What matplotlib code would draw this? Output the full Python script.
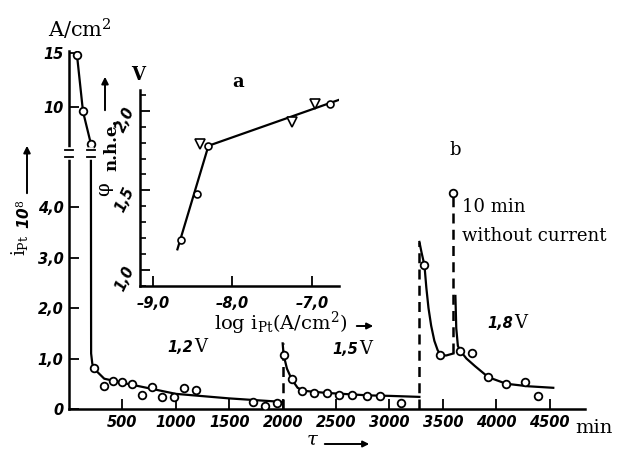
import numpy as np
import matplotlib
matplotlib.use('Agg')
import matplotlib.pyplot as plt
from matplotlib.ticker import NullLocator, MultipleLocator

plt.rcParams['mathtext.fontset'] = 'dejavuserif'

W, H = 635, 450

# main chart (b): time in min, current density i_Pt * 10^8 (A/cm2)
curve12_x = [75, 131, 205, 207, 218, 234, 330, 500, 1000, 1500, 2000]
curve12_y = [14.8, 9.6, 6.6, 1.1, 0.9, 0.8, 0.6, 0.52, 0.3, 0.21, 0.14]
pts12_x = [75, 131, 205, 234, 327, 411, 495, 589, 682, 776, 869, 981, 1075, 1187, 1720, 1832, 1944]
pts12_y = [14.8, 9.6, 6.6, 0.81, 0.46, 0.55, 0.53, 0.5, 0.28, 0.44, 0.24, 0.24, 0.42, 0.38, 0.14, 0.06, 0.12]

curve15_x = [2000, 2009, 2040, 2084, 2140, 2200, 2400, 2800, 3000, 3280]
curve15_y = [1.3, 1.07, 0.8, 0.59, 0.42, 0.36, 0.32, 0.27, 0.26, 0.24]
pts15_x = [2009, 2084, 2178, 2290, 2411, 2523, 2645, 2785, 2907, 3112]
pts15_y = [1.07, 0.59, 0.36, 0.32, 0.32, 0.28, 0.28, 0.26, 0.26, 0.12]

curve18a_x = [3280, 3300, 3327, 3345, 3365, 3390, 3420, 3450, 3477, 3530, 3598]
curve18a_y = [3.31, 3.1, 2.85, 2.4, 2.0, 1.65, 1.35, 1.17, 1.07, 1.06, 1.1]
curve18b_x = [3617, 3625, 3640, 3664, 3720, 3800, 3925, 4093, 4300, 4533]
curve18b_y = [2.24, 1.6, 1.25, 1.15, 1.0, 0.85, 0.63, 0.5, 0.45, 0.42]
pts18_x = [3327, 3477, 3598, 3664, 3776, 3925, 4093, 4271, 4393]
pts18_y = [2.85, 1.07, 4.28, 1.15, 1.11, 0.63, 0.5, 0.53, 0.26]

# dashed switching lines: (x, y_from, y_to)
dashes = [(2000, 0, 1.3), (3280, 0, 3.31), (3598, 1.1, 4.28)]

yticks = [0, 1, 2, 3, 4, 10, 15]
ytick_labels = ['0', '1,0', '2,0', '3,0', '4,0', '10', '15']
xticks = [500, 1000, 1500, 2000, 2500, 3000, 3500, 4000, 4500]
xtick_labels = ['500', '1000', '1500', '2000', '2500', '3000', '3500', '4000', '4500']

# inset (a): potential vs log current
inset_line_x = [-8.69, -8.3, -6.65]
inset_line_y = [1.13, 1.78, 2.07]
inset_circ_x = [-8.65, -8.45, -8.3, -6.77]
inset_circ_y = [1.19, 1.48, 1.78, 2.04]
inset_tri_x = [-8.41, -7.25, -6.96]
inset_tri_y = [1.79, 1.93, 2.04]
inset_xticks = [-9.0, -8.0, -7.0]
inset_xtick_labels = ['\u20139,0', '\u20138,0', '\u20137,0']
inset_yticks = [1.0, 1.5, 2.0]
inset_ytick_labels = ['1,0', '1,5', '2,0']

# broken y axis: linear up to BRK, compressed above
BRK, SLOPE = 4.885, 0.214


def fwd(y):
    y = np.asarray(y, float)
    return np.where(y <= BRK, y, BRK + (y - BRK) * SLOPE)


def inv(d):
    d = np.asarray(d, float)
    return np.where(d <= BRK, d, BRK + (d - BRK) / SLOPE)


def fx(x):
    return x / W


def fy(y):
    return 1 - y / H


num_font = dict(family='DejaVu Sans', style='italic', weight='bold', size=10.5)
serif = 'DejaVu Serif'

fig = plt.figure(figsize=(6.35, 4.5), dpi=100)
ax = fig.add_axes([fx(69), fy(409), (585 - 69) / W, (409 - 51) / H])
ax.set_yscale('function', functions=(fwd, inv))
ax.set_xlim(0, 4830)
ax.set_ylim(0, 15.2)

lw = 1.6
mk = dict(marker='o', ms=5.5, mfc='white', mec='black', mew=1.3, ls='none', zorder=4)
ax.plot(curve12_x, curve12_y, color='black', lw=lw)
ax.plot(curve15_x, curve15_y, color='black', lw=lw)
ax.plot(curve18a_x, curve18a_y, color='black', lw=lw)
ax.plot(curve18b_x, curve18b_y, color='black', lw=lw)
for x0, y0, y1 in dashes:
    ax.plot([x0, x0], [y0, y1], color='black', lw=1.8, ls=(0, (4, 2.5)))
ax.plot(pts12_x, pts12_y, **mk)
ax.plot(pts15_x, pts15_y, **mk)
ax.plot(pts18_x, pts18_y, **mk)

# break marks on the spine and on the first curve
g0, g1 = inv(5.0), inv(5.13)
for xb in [0, 205]:
    ax.plot([xb, xb], [g0, g1], color='white', lw=4, clip_on=False, zorder=6)
    for gy in [g0, g1]:
        ax.plot([xb - 38, xb + 38], [gy, gy], color='black', lw=1.3, clip_on=False, zorder=7)

ax.spines['top'].set_visible(False)
ax.spines['right'].set_visible(False)
for s in ['left', 'bottom']:
    ax.spines[s].set_linewidth(1.8)
ax.set_yticks(yticks)
ax.set_yticklabels(ytick_labels, fontdict=num_font)
ax.yaxis.set_minor_locator(NullLocator())
ax.set_xticks(xticks)
ax.set_xticklabels(xtick_labels, fontdict=num_font)
ax.tick_params(direction='in', length=7, width=1.3, pad=4)

# inset
axi = fig.add_axes([fx(140), fy(286), 199 / W, 196 / H])
axi.patch.set_visible(False)
axi.set_xlim(-9.16, -6.66)
axi.set_ylim(0.9, 2.13)
axi.plot(inset_line_x, inset_line_y, color='black', lw=lw)
axi.plot(inset_circ_x, inset_circ_y, marker='o', ms=5, mfc='white', mec='black', mew=1.2,
         ls='none', zorder=4)
axi.plot(inset_tri_x, inset_tri_y, marker='v', ms=7.5, mfc='white', mec='black', mew=1.2,
         ls='none', zorder=4)
axi.spines['top'].set_visible(False)
axi.spines['right'].set_visible(False)
for s in ['left', 'bottom']:
    axi.spines[s].set_linewidth(1.8)
axi.set_xticks(inset_xticks)
axi.set_xticklabels(inset_xtick_labels, fontdict=num_font)
axi.set_yticks(inset_yticks)
axi.set_yticklabels(inset_ytick_labels, fontdict=num_font, rotation=65)
axi.yaxis.set_minor_locator(MultipleLocator(0.1))
axi.tick_params(direction='in', length=7, width=1.3)
axi.tick_params(axis='x', pad=7)
axi.tick_params(axis='y', pad=2)
axi.tick_params(which='minor', direction='in', length=4.5, width=1.2)

# texts
fig.text(fx(80), fy(29), 'A/cm$^2$', family=serif, fontsize=15, ha='center', va='center')
fig.text(fx(20), fy(245), 'i$_{\\rm Pt}$', family=serif, fontsize=13, rotation=90,
         ha='center', va='center')
fig.text(fx(24), fy(214), '10$^8$', family='DejaVu Sans', style='italic', weight='bold',
         fontsize=11, rotation=90, ha='center', va='center')
fig.add_artist(plt.Annotation('', xy=(fx(27), fy(143)), xytext=(fx(27), fy(196)),
                              xycoords='figure fraction', textcoords='figure fraction',
                              arrowprops=dict(arrowstyle='-|>', color='black', lw=1.4,
                                              mutation_scale=10)))

fig.text(fx(138), fy(75), 'V', family=serif, weight='bold', fontsize=13, ha='center', va='center')
fig.text(fx(104), fy(189), '\u03c6', family=serif, fontsize=14, rotation=90, ha='center',
         va='center')
fig.text(fx(112), fy(145), 'n.h.e.', family=serif, weight='bold', fontsize=12, rotation=90,
         ha='center', va='center')
fig.add_artist(plt.Annotation('', xy=(fx(105), fy(74)), xytext=(fx(105), fy(113)),
                              xycoords='figure fraction', textcoords='figure fraction',
                              arrowprops=dict(arrowstyle='-|>', color='black', lw=1.4,
                                              mutation_scale=10)))
fig.text(fx(238), fy(82), 'a', family=serif, weight='bold', fontsize=13, ha='center',
         va='center')
fig.text(fx(214), fy(323), 'log i$_{\\rm Pt}$(A/cm$^2$)', family=serif, fontsize=14,
         ha='left', va='center')
fig.add_artist(plt.Annotation('', xy=(fx(376), fy(326)), xytext=(fx(354), fy(326)),
                              xycoords='figure fraction', textcoords='figure fraction',
                              arrowprops=dict(arrowstyle='-|>', color='black', lw=1.4,
                                              mutation_scale=9)))

fig.text(fx(455), fy(150), 'b', family=serif, fontsize=13, ha='center', va='center')
fig.text(fx(462), fy(207), '10 min', family=serif, fontsize=13, ha='left', va='center')
fig.text(fx(462), fy(236), 'without current', family=serif, fontsize=13, ha='left',
         va='center')

for xl, yl, lab in [(167, 347, '1,2'), (332, 349, '1,5'), (487, 323, '1,8')]:
    fig.text(fx(xl), fy(yl), lab, fontdict=num_font, ha='left', va='center')
    fig.text(fx(xl + 27), fy(yl), 'V', family=serif, fontsize=13, ha='left', va='center')

fig.text(fx(575), fy(428), 'min', family=serif, fontsize=14, ha='left', va='center')
fig.text(fx(312), fy(440), '\u03c4', family=serif, fontsize=14, style='italic', ha='center',
         va='center')
fig.add_artist(plt.Annotation('', xy=(fx(372), fy(444)), xytext=(fx(322), fy(444)),
                              xycoords='figure fraction', textcoords='figure fraction',
                              arrowprops=dict(arrowstyle='-|>', color='black', lw=1.4,
                                              mutation_scale=9)))

fig.savefig('out.png', dpi=100)
